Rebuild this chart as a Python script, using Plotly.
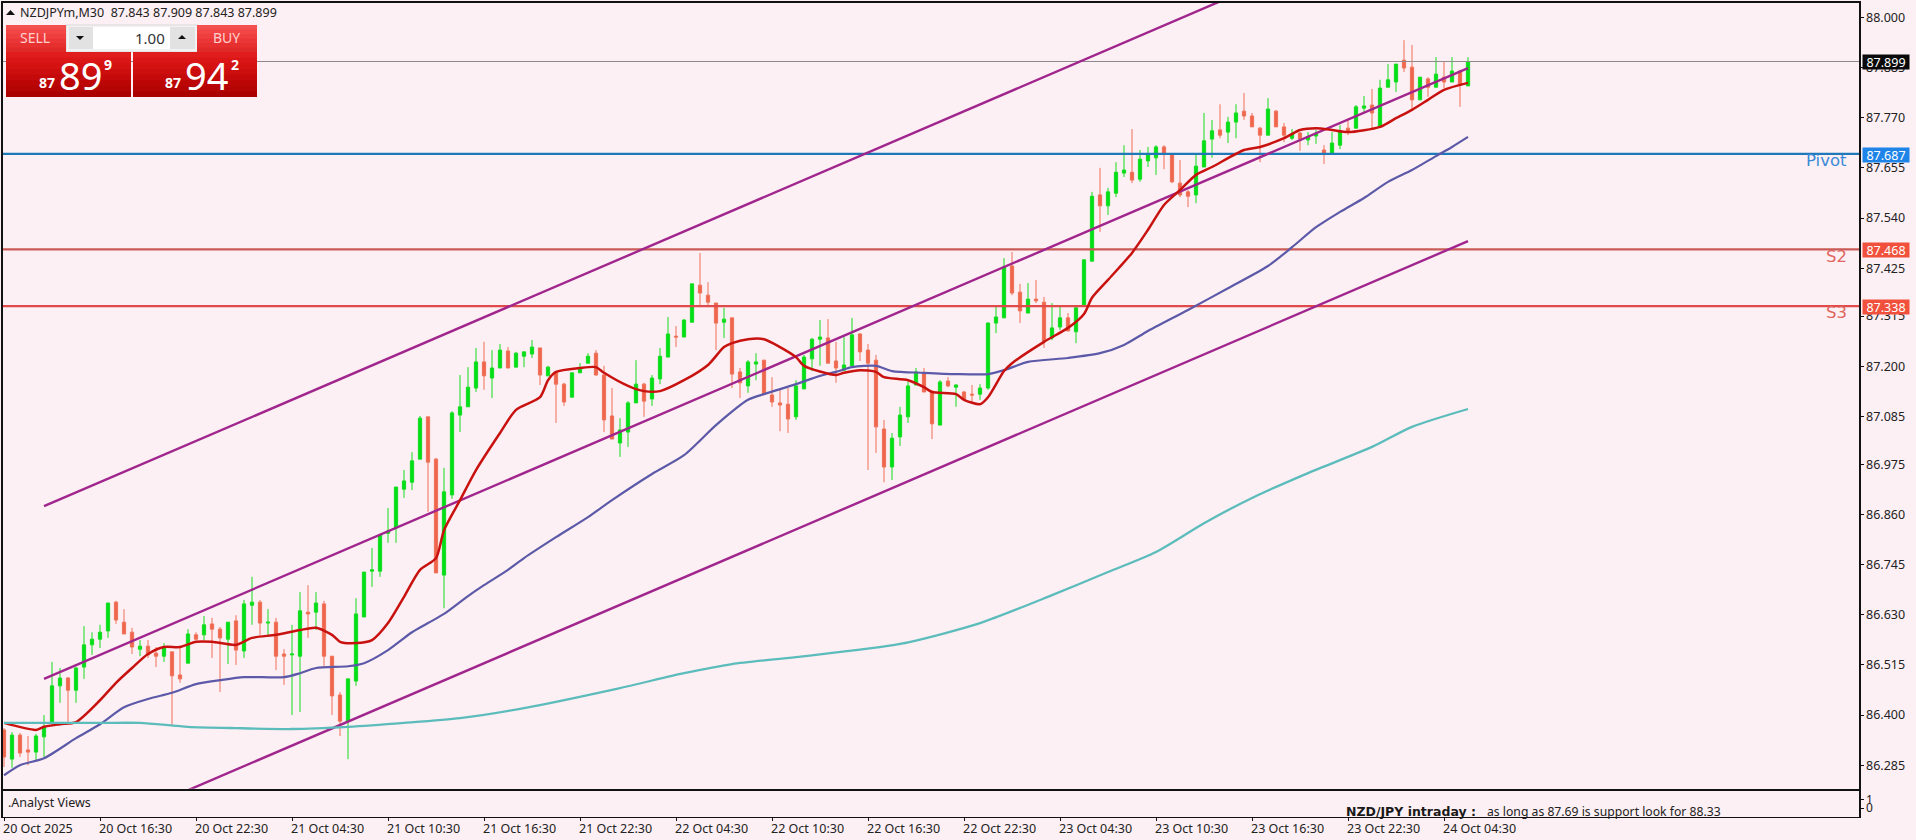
import plotly.graph_objects as go

W, H = 1916, 840
BG = "#fdf0f4"

opens = [86.366,86.299,86.354,86.320,86.315,86.350,86.382,86.467,86.485,86.457,
86.510,86.561,86.574,86.593,86.659,86.613,86.590,86.551,86.558,86.542,
86.535,86.545,86.492,86.519,86.584,86.584,86.609,86.597,86.574,86.616,
86.547,86.652,86.659,86.611,86.613,86.540,86.538,86.535,86.636,86.636,
86.655,86.535,86.446,86.386,86.478,86.625,86.730,86.730,86.817,86.829,
86.918,86.934,86.987,87.084,86.987,86.721,86.905,87.088,87.107,87.150,
87.210,87.173,87.196,87.235,87.198,87.223,87.228,87.242,87.178,87.185,
87.159,87.129,87.185,87.207,87.230,87.180,87.086,87.024,87.049,87.116,
87.159,87.125,87.171,87.221,87.269,87.267,87.301,87.386,87.363,87.345,
87.301,87.311,87.187,87.155,87.205,87.214,87.134,87.116,87.113,87.084,
87.148,87.217,87.262,87.265,87.212,87.191,87.201,87.274,87.237,87.214,
87.056,86.969,87.038,87.084,87.157,87.185,87.143,87.065,87.166,87.152,
87.141,87.136,87.136,87.150,87.299,87.311,87.430,87.370,87.322,87.354,
87.347,87.265,87.290,87.311,87.279,87.340,87.441,87.593,87.568,87.597,
87.643,87.645,87.629,87.671,87.678,87.703,87.687,87.620,87.600,87.593,
87.657,87.721,87.742,87.737,87.760,87.785,87.774,87.746,87.730,87.785,
87.749,87.723,87.735,87.719,87.728,87.696,87.689,87.707,87.746,87.746,
87.792,87.799,87.751,87.840,87.852,87.902,87.886,87.811,87.859,87.840,
87.863,87.852,87.877,87.843]

highs = [86.370,86.361,86.359,86.352,86.357,86.400,86.522,86.508,86.487,86.510,
86.604,86.590,86.607,86.657,86.662,86.643,86.600,86.572,86.572,86.556,
86.565,86.545,86.556,86.597,86.590,86.627,86.623,86.602,86.613,86.629,
86.664,86.717,86.664,86.643,86.623,86.551,86.607,86.682,86.698,86.682,
86.662,86.535,86.453,86.483,86.668,86.728,86.783,86.813,86.875,86.923,
86.962,87.003,87.086,87.084,86.990,86.967,87.097,87.180,87.198,87.242,
87.256,87.237,87.251,87.244,87.233,87.233,87.260,87.242,87.201,87.187,
87.162,87.185,87.207,87.230,87.237,87.201,87.150,87.081,87.120,87.214,
87.162,87.180,87.242,87.313,87.292,87.308,87.389,87.460,87.393,87.345,
87.334,87.311,87.196,87.214,87.230,87.214,87.175,87.146,87.150,87.168,
87.226,87.265,87.306,87.308,87.256,87.267,87.311,87.276,87.251,87.226,
87.077,87.047,87.107,87.164,87.196,87.196,87.143,87.168,87.175,87.159,
87.143,87.157,87.159,87.301,87.336,87.448,87.462,87.389,87.391,87.398,
87.359,87.345,87.336,87.322,87.340,87.446,87.600,87.655,87.609,87.668,
87.707,87.744,87.696,87.703,87.707,87.707,87.689,87.673,87.604,87.687,
87.781,87.765,87.801,87.772,87.801,87.827,87.781,87.749,87.815,87.788,
87.758,87.744,87.737,87.737,87.742,87.707,87.737,87.753,87.765,87.799,
87.820,87.836,87.857,87.893,87.893,87.948,87.937,87.863,87.863,87.909,
87.898,87.909,87.880,87.909]

lows = [86.281,86.279,86.304,86.285,86.297,86.304,86.377,86.428,86.382,86.428,
86.483,86.538,86.554,86.577,86.609,86.586,86.540,86.535,86.531,86.510,
86.522,86.375,86.474,86.519,86.572,86.572,86.531,86.453,86.517,86.515,
86.531,86.607,86.584,86.584,86.503,86.469,86.400,86.407,86.577,86.595,
86.512,86.400,86.352,86.299,86.467,86.625,86.694,86.717,86.795,86.795,
86.898,86.916,86.987,86.866,86.726,86.645,86.896,87.049,87.107,87.141,
87.146,87.127,87.196,87.196,87.198,87.198,87.219,87.157,87.178,87.070,
87.109,87.129,87.185,87.207,87.178,87.049,87.033,86.992,87.015,87.116,
87.084,87.109,87.159,87.221,87.244,87.267,87.301,87.340,87.336,87.237,
87.265,87.150,87.127,87.139,87.168,87.136,87.107,87.051,87.047,87.077,
87.148,87.189,87.201,87.207,87.162,87.191,87.201,87.212,86.962,87.001,
86.934,86.939,87.017,87.070,87.157,87.141,87.033,87.065,87.152,87.107,
87.123,87.116,87.123,87.146,87.276,87.311,87.363,87.299,87.322,87.345,
87.242,87.260,87.283,87.281,87.253,87.340,87.441,87.508,87.547,87.588,
87.634,87.620,87.623,87.657,87.639,87.652,87.620,87.588,87.565,87.574,
87.657,87.678,87.723,87.712,87.723,87.765,87.749,87.668,87.730,87.749,
87.714,87.719,87.694,87.707,87.710,87.664,87.689,87.698,87.730,87.746,
87.783,87.746,87.749,87.840,87.829,87.875,87.788,87.811,87.818,87.840,
87.838,87.852,87.795,87.843]

closes = [86.304,86.354,86.313,86.315,86.352,86.373,86.467,86.485,86.457,86.508,
86.561,86.574,86.590,86.657,86.618,86.586,86.556,86.558,86.538,86.535,
86.556,86.490,86.483,86.586,86.574,86.607,86.597,86.577,86.613,86.549,
86.655,86.659,86.611,86.613,86.535,86.535,86.540,86.639,86.632,86.657,
86.535,86.444,86.386,86.483,86.632,86.728,86.733,86.813,86.822,86.923,
86.937,86.983,87.081,86.980,86.726,86.912,87.093,87.107,87.152,87.210,
87.178,87.196,87.237,87.196,87.230,87.233,87.244,87.180,87.198,87.159,
87.118,87.185,87.196,87.223,87.180,87.077,87.033,87.054,87.116,87.159,
87.120,87.173,87.223,87.274,87.267,87.306,87.389,87.368,87.347,87.299,
87.308,87.182,87.162,87.210,87.210,87.136,87.118,87.111,87.079,87.155,
87.221,87.262,87.267,87.207,87.196,87.203,87.272,87.233,87.207,87.061,
86.969,87.035,87.088,87.155,87.187,87.141,87.068,87.164,87.155,87.157,
87.125,87.134,87.150,87.299,87.313,87.428,87.368,87.327,87.354,87.350,
87.258,87.288,87.311,87.281,87.334,87.444,87.590,87.568,87.600,87.645,
87.650,87.627,87.675,87.687,87.703,87.687,87.623,87.593,87.590,87.659,
87.717,87.740,87.730,87.760,87.781,87.774,87.749,87.730,87.790,87.749,
87.730,87.733,87.721,87.726,87.733,87.689,87.712,87.740,87.737,87.795,
87.797,87.781,87.838,87.857,87.893,87.884,87.811,87.863,87.840,87.870,
87.852,87.877,87.845,87.899]

candle_index = list(range(len(opens)))

fast_ma_index = [0,4,5,7,9,12,14,16,18,20,22,24,26,29,31,34,37,39,41,42,44,46,48,50,52,54,55,57,59,62,64,67,68,69,72,74,75,78,80,82,85,88,90,91,93,95,97,99,100,104,105,107,109,110,113,115,116,119,120,122,123,125,126,130,133,135,136,138,141,143,145,147,149,151,155,157,160,162,164,166,168,172,174,176,178,180,183]
fast_ma = [86.382,86.366,86.373,86.379,86.384,86.434,86.474,86.508,86.540,86.556,86.556,86.568,86.568,86.561,86.577,86.584,86.595,86.600,86.584,86.568,86.565,86.572,86.611,86.671,86.733,86.760,86.824,86.893,86.962,87.047,87.100,87.129,87.168,87.187,87.196,87.198,87.185,87.155,87.143,87.143,87.168,87.203,87.244,87.253,87.262,87.262,87.244,87.221,87.201,87.180,87.185,87.191,87.187,87.175,87.168,87.152,87.141,87.136,87.123,87.113,87.129,87.189,87.207,87.256,87.288,87.320,87.357,87.398,87.460,87.513,87.570,87.604,87.639,87.657,87.696,87.703,87.723,87.742,87.746,87.742,87.737,87.749,87.769,87.788,87.811,87.834,87.850]

mid_ma_index = [0,2,5,9,12,15,18,21,24,27,30,35,37,39,43,45,48,51,53,55,58,60,63,65,69,73,76,81,85,89,93,95,99,102,104,106,109,111,115,119,123,125,128,133,137,140,143,148,153,158,161,164,167,170,173,176,179,181,183]
mid_ma = [86.262,86.285,86.301,86.347,86.379,86.418,86.437,86.451,86.471,86.480,86.487,86.487,86.496,86.508,86.512,86.519,86.549,86.590,86.611,86.632,86.673,86.698,86.733,86.760,86.808,86.854,86.893,86.953,86.996,87.065,87.123,87.136,87.159,87.178,87.187,87.198,87.201,87.189,87.185,87.182,87.182,87.191,87.210,87.219,87.230,87.249,87.281,87.329,87.379,87.430,87.473,87.519,87.554,87.586,87.623,87.650,87.682,87.703,87.726]

slow_ma_index = [0,12,17,23,29,36,43,50,57,65,77,85,91,99,112,122,131,138,144,150,156,163,171,176,183]
slow_ma = [86.382,86.382,86.382,86.373,86.370,86.368,86.373,86.382,86.393,86.416,86.462,86.496,86.517,86.533,86.563,86.611,86.675,86.728,86.774,86.840,86.898,86.955,87.015,87.061,87.102]

channel_index = [5, 183]
channel_upper = [86.879, 88.281]
channel_mid = [86.483, 87.884]
channel_lower = [86.086, 87.487]

pivot_level, s2_level, s3_level, last_price = 87.687, 87.468, 87.338, 87.899

price_ticks = [88.000,87.885,87.770,87.655,87.540,87.425,87.315,87.200,87.085,86.975,86.860,86.745,86.630,86.515,86.400,86.285]
time_ticks = [0,12,24,36,48,60,72,84,96,108,120,132,144,156,168,180]
time_labels = ["20 Oct 2025","20 Oct 16:30","20 Oct 22:30","21 Oct 04:30","21 Oct 10:30","21 Oct 16:30","21 Oct 22:30","22 Oct 04:30","22 Oct 10:30","22 Oct 16:30","22 Oct 22:30","23 Oct 04:30","23 Oct 10:30","23 Oct 16:30","23 Oct 22:30","24 Oct 04:30"]
x_range = [-0.19, 231.875]
y_range = [86.2311, 88.0343]

def px(x): return x / W
def py(y): return 1 - y / H

FONT = "Noto Sans"
fig = go.Figure()
fig.add_trace(go.Candlestick(
    x=candle_index, open=opens, high=highs, low=lows, close=closes,
    increasing=dict(line=dict(color="#14dc1e", width=1), fillcolor="#00e01a"),
    decreasing=dict(line=dict(color="#ee7058", width=1), fillcolor="#f0664c"),
    whiskerwidth=0, hoverinfo="skip", showlegend=False))

def line(xs, ys, color, width, smooth=False):
    style = dict(color=color, width=width)
    if smooth:
        style.update(shape="spline", smoothing=0.7)
    fig.add_trace(go.Scatter(x=xs, y=ys, mode="lines", hoverinfo="skip", showlegend=False, line=style))

full = [x_range[0], x_range[1]]
line(full, [last_price]*2, "#8e8a8c", 1)
line(full, [pivot_level]*2, "#1f78b8", 2.3)
line(full, [s2_level]*2, "#c95a55", 2.3)
line(full, [s3_level]*2, "#e04a4a", 2.3)
for ch in (channel_upper, channel_mid, channel_lower):
    line(channel_index, ch, "#a0258c", 2.4)
line(mid_ma_index, mid_ma, "#5c5aa8", 2.2, True)
line(fast_ma_index, fast_ma, "#c8120f", 2.5, True)
line(slow_ma_index, slow_ma, "#5cbcbc", 2.3, True)

# lower panel: empty axis frame carrying the 0/1 scale
fig.add_trace(go.Scatter(x=[0], y=[0], xaxis="x2", yaxis="y2", mode="markers",
                         marker=dict(opacity=0), hoverinfo="skip", showlegend=False))

shapes = []
def rect(x0, y0, x1, y1, color, line_color=None):
    shapes.append(dict(type="rect", xref="paper", yref="paper", layer="above",
                       x0=px(x0), x1=px(x1), y0=py(y1), y1=py(y0), fillcolor=color,
                       line=dict(width=1 if line_color else 0, color=line_color or color)))

def gradient(x0, y0, x1, y1, colors):
    n = len(colors)
    for k, c in enumerate(colors):
        # each strip runs to the bottom, the next one paints over it: no seams
        rect(x0, y0 + (y1 - y0) * k / n, x1, y1, c)

light_btn = ["#f45050", "#f24646", "#ee3e3e", "#ea3636", "#e63030", "#e02a2a"]
dark_btn = ["#e01c1c", "#da1616", "#d41212", "#cc0e0e", "#c40a0a", "#bc0606", "#b40404", "#aa0000"]
rect(66, 25, 198, 52, "#f2f2f2", "#d8d8d8")
gradient(6, 25, 66, 52, light_btn)
gradient(197, 25, 257, 52, light_btn)
rect(69, 27, 93, 49, "#e2e2e2")
rect(93, 27, 170, 49, "#ffffff")
rect(170, 27, 195, 49, "#e2e2e2")
gradient(6, 52, 131, 97, dark_btn)
gradient(133, 52, 257, 97, dark_btn)

def tri_path(pts):
    return "M " + " L ".join(f"{px(a):.6f} {py(b):.6f}" for a, b in pts) + " Z"

for pts in ([(76,36),(84,36),(80,40)], [(178,39),(186,39),(182,35)], [(6,15),(15,15),(10.5,10)]):
    shapes.append(dict(type="path", xref="paper", yref="paper", layer="above",
                       path=tri_path(pts), fillcolor="#111111", line=dict(width=0)))

ann = []
def text(x, y, s, size=12, color="#222222", anchor="left", bold=False, family=FONT):
    ann.append(dict(xref="paper", yref="paper", x=px(x), y=py(y), text=f"<b>{s}</b>" if bold else s,
                    showarrow=False, xanchor=anchor, yanchor="middle",
                    font=dict(size=size, color=color, family=family), borderpad=0, borderwidth=0))

text(20, 13, "NZDJPYm,M30&nbsp;&nbsp;87.843 87.909 87.843 87.899", 12.5)
text(35, 38, "SELL", 14, "#ffd0d0", "center")
text(226, 38, "BUY", 14, "#ffd0d0", "center")
text(165, 38, "1.00", 15, "#333333", "right")
text(55, 83, "87", 14, "#ffffff", "right", True)
text(80, 75, "89", 38, "#ffffff", "center")
text(108, 65, "9", 14, "#ffffff", "center", True)
text(181, 83, "87", 14, "#ffffff", "right", True)
text(206, 75, "94", 38, "#ffffff", "center")
text(235, 65, "2", 14, "#ffffff", "center", True)
text(1847, 160, "Pivot", 16.5, "#3a8ad8", "right", False, "DejaVu Sans")
text(1847, 256, "S2", 16.5, "#e0665e", "right", False, "DejaVu Sans")
text(1847, 312, "S3", 16.5, "#e0665e", "right", False, "DejaVu Sans")
text(8, 802, ".Analyst Views", 12.5)
text(1346, 811, "NZD/JPY intraday :", 12.5, "#1a1a1a", "left", True, "DejaVu Sans")
text(1487, 811, "as long as 87.69 is support look for 88.33", 12.2, "#222222")

for i, s in zip(time_ticks, time_labels):
    ann.append(dict(xref="x", yref="paper", x=i, y=py(828), text=s, showarrow=False, xanchor="left",
                    yanchor="middle", xshift=-3, font=dict(size=12.5, color="#222222", family=FONT)))

for v, bg, fg in ((last_price, "#0a0a0a", "#ffffff"), (pivot_level, "#1f84e8", "#ffffff"),
                  (s2_level, "#f0503c", "#ffffff"), (s3_level, "#f0503c", "#ffffff")):
    ann.append(dict(xref="paper", yref="y", x=px(1862), y=v, text=f"{v:.3f}", showarrow=False, xanchor="left",
                    yanchor="middle", width=46, height=14, bgcolor=bg, borderpad=0, align="center",
                    yshift=-1, font=dict(size=12.5, color=fg, family=FONT)))

axis_common = dict(showgrid=False, zeroline=False, showline=True, mirror=True, linecolor="#111111", linewidth=1.5)
fig.update_layout(
    width=W, height=H, margin=dict(l=0, r=0, t=0, b=0), autosize=False,
    paper_bgcolor=BG, plot_bgcolor=BG, showlegend=False, hovermode=False, boxgap=0.42,
    font=dict(family=FONT, size=12.5, color="#222222"),
    shapes=shapes, annotations=ann,
    xaxis=dict(domain=[px(2.5), px(1859)], range=x_range, rangeslider=dict(visible=False),
               showticklabels=False, ticks="", anchor="y", **axis_common),
    yaxis=dict(domain=[py(788.7), py(2.5)], range=y_range, side="right", anchor="x", tickmode="array",
               tickvals=price_ticks, ticktext=[f"{v:.3f}" for v in price_ticks], ticks="outside",
               ticklen=3, tickcolor="#111111", tickfont=dict(size=12.5, family=FONT, color="#222222"), **axis_common),
    xaxis2=dict(domain=[px(2.5), px(1859)], range=x_range, matches="x", anchor="y2", tickmode="array",
                tickvals=time_ticks, ticktext=[""]*len(time_ticks), ticks="outside", ticklen=3,
                tickcolor="#111111", **axis_common),
    yaxis2=dict(domain=[py(816.7), py(790.5)], range=[-0.97, 2], side="right", anchor="x2", tickmode="array",
                tickvals=[0, 1], ticktext=["0", "1"], ticks="outside", ticklen=3, tickcolor="#111111",
                tickfont=dict(size=12, family=FONT, color="#222222"), **axis_common),
)

fig.write_html("out.html", config=dict(displayModeBar=False, staticPlot=True),
               post_script="document.body.style.margin='0';document.body.style.overflow='hidden';document.body.style.background='%s';" % BG)
